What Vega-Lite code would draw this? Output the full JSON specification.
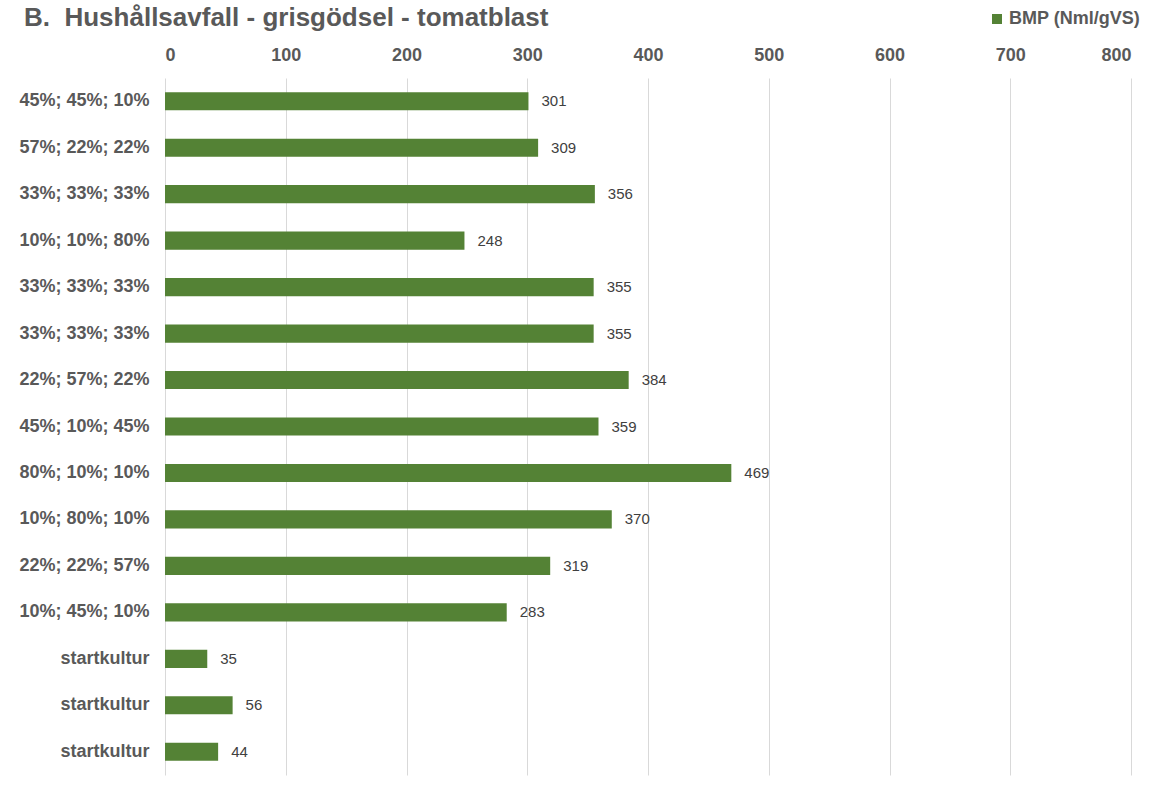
{
  "$schema": "https://vega.github.io/schema/vega-lite/v6.json",
  "width": 966,
  "height": 697,
  "autosize": {"type": "none"},
  "padding": {"left": 165, "top": 78, "right": 26, "bottom": 10},
  "background": "white",
  "config": {"font": "Liberation Sans", "view": {"stroke": null}},
  "title": {
    "text": "B.\u00a0 Hushållsavfall - grisgödsel - tomatblast",
    "anchor": "start",
    "frame": "group",
    "dx": -141,
    "offset": -21,
    "fontSize": 26,
    "fontWeight": "bold",
    "color": "#595959"
  },
  "data": {
    "values": [
      {"id": "45%; 45%; 10%|1", "order": 1, "bmp": 301},
      {"id": "57%; 22%; 22%|2", "order": 2, "bmp": 309},
      {"id": "33%; 33%; 33%|3", "order": 3, "bmp": 356},
      {"id": "10%; 10%; 80%|4", "order": 4, "bmp": 248},
      {"id": "33%; 33%; 33%|5", "order": 5, "bmp": 355},
      {"id": "33%; 33%; 33%|6", "order": 6, "bmp": 355},
      {"id": "22%; 57%; 22%|7", "order": 7, "bmp": 384},
      {"id": "45%; 10%; 45%|8", "order": 8, "bmp": 359},
      {"id": "80%; 10%; 10%|9", "order": 9, "bmp": 469},
      {"id": "10%; 80%; 10%|10", "order": 10, "bmp": 370},
      {"id": "22%; 22%; 57%|11", "order": 11, "bmp": 319},
      {"id": "10%; 45%; 10%|12", "order": 12, "bmp": 283},
      {"id": "startkultur|13", "order": 13, "bmp": 35},
      {"id": "startkultur|14", "order": 14, "bmp": 56},
      {"id": "startkultur|15", "order": 15, "bmp": 44}
    ]
  },
  "encoding": {
    "y": {
      "field": "id",
      "type": "nominal",
      "sort": {"field": "order", "order": "ascending"},
      "scale": {"paddingInner": 0.61, "paddingOuter": 0.305},
      "axis": {
        "title": null,
        "labelExpr": "split(datum.label, '|')[0]",
        "labelFontSize": 18,
        "labelFontWeight": "bold",
        "labelColor": "#595959",
        "labelPadding": 16,
        "domain": false,
        "ticks": false,
        "grid": false
      }
    },
    "x": {
      "field": "bmp",
      "type": "quantitative",
      "scale": {"domain": [0, 800], "nice": false},
      "axis": {
        "orient": "top",
        "title": null,
        "values": [0, 100, 200, 300, 400, 500, 600, 700, 800],
        "labelFontSize": 18,
        "labelFontWeight": "bold",
        "labelColor": "#595959",
        "labelPadding": 14,
        "domain": false,
        "ticks": false,
        "grid": true,
        "gridColor": "#d9d9d9",
        "gridWidth": 1
      }
    }
  },
  "layer": [
    {
      "mark": {"type": "bar"},
      "encoding": {
        "color": {
          "datum": "BMP (Nml/gVS)",
          "type": "nominal",
          "scale": {"range": ["#548235"]},
          "legend": {
            "title": null,
            "orient": "none",
            "legendX": 823,
            "legendY": -68,
            "symbolType": "square",
            "symbolSize": 100,
            "symbolStrokeWidth": 0,
            "labelFontSize": 18,
            "labelFontWeight": "bold",
            "labelColor": "#595959",
            "labelOffset": 3
          }
        }
      }
    },
    {
      "mark": {"type": "text", "align": "left", "dx": 13, "fontSize": 15, "color": "#404040"},
      "encoding": {"text": {"field": "bmp", "type": "quantitative"}}
    }
  ]
}
